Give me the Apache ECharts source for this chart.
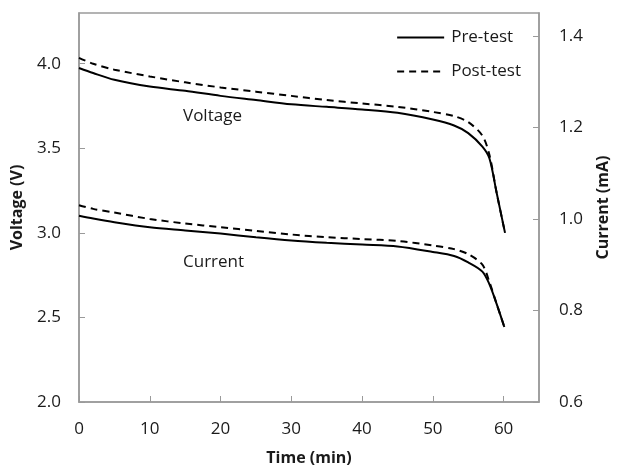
<!DOCTYPE html>
<html>
<head>
<meta charset="utf-8">
<script src="https://cdn.jsdelivr.net/npm/echarts@6/dist/echarts.min.js"></script>
<style>
  html, body { margin: 0; padding: 0; background: #fff; }
  #main { width: 619px; height: 471px; }
</style>
</head>
<body>
<div id="main"></div>
<script>
// time (min) points
var timeVoltage = [0, 2, 5, 10, 15, 20, 25, 30, 35, 40, 45, 50, 53, 55, 57, 58, 59, 60.2];
var voltagePre  = [3.975, 3.945, 3.905, 3.865, 3.84, 3.81, 3.785, 3.76, 3.745, 3.73, 3.71, 3.67, 3.635, 3.59, 3.51, 3.44, 3.24, 3.0];
var voltagePost = [4.035, 4.00, 3.965, 3.925, 3.89, 3.86, 3.835, 3.81, 3.785, 3.765, 3.745, 3.715, 3.69, 3.655, 3.575, 3.46, 3.24, 3.0];

var timeCurrent = [0, 2, 5, 10, 15, 20, 25, 30, 35, 40, 45, 50, 53, 55, 57, 58, 59, 60.1];
var currentPre  = [1.007, 1.001, 0.993, 0.982, 0.975, 0.968, 0.96, 0.953, 0.948, 0.944, 0.94, 0.928, 0.919, 0.905, 0.885, 0.857, 0.815, 0.764];
var currentPost = [1.03, 1.022, 1.014, 1.0, 0.99, 0.982, 0.974, 0.966, 0.96, 0.956, 0.952, 0.942, 0.934, 0.923, 0.9, 0.862, 0.815, 0.764];

var xTicks = [0, 10, 20, 30, 40, 50, 60];
var voltTicks = [2.0, 2.5, 3.0, 3.5, 4.0];
var currTicks = [0.6, 0.8, 1.0, 1.2, 1.4];

function pairs(xs, ys){
  var out = [];
  for (var i = 0; i < xs.length; i++) out.push([xs[i], ys[i]]);
  return out;
}

var font = 'Open Sans';
var grey = '#9a9a9a';
var textColor = '#1a1a1a';

var myChart = echarts.init(document.getElementById('main'));
var solid = { color: '#000', width: 2, type: 'solid' };
var dashed = { color: '#000', width: 2, type: [7, 5] };

var option = {
  animation: false,
  backgroundColor: '#fff',
  textStyle: { fontFamily: font, color: textColor },
  grid: { left: 79, top: 13, right: 74, bottom: 65, show: true, borderColor: grey, borderWidth: 1.5, backgroundColor: '#fff' },
  legend: {
    data: ['Pre-test', 'Post-test'],
    orient: 'vertical',
    right: 93,
    top: 24,
    itemWidth: 47,
    itemHeight: 16,
    itemGap: 17,
    itemStyle: { opacity: 0 },
    textStyle: { fontFamily: font, fontSize: 17, color: textColor, padding: [0, 0, 0, 2] }
  },
  xAxis: {
    type: 'value',
    min: 0, max: 65, interval: 10,
    name: 'Time (min)',
    nameLocation: 'middle',
    nameGap: 48,
    nameTextStyle: { fontFamily: font, fontSize: 16, fontWeight: 'bold', color: textColor },
    axisLine: { lineStyle: { color: grey, width: 1.5 } },
    axisTick: { inside: true, length: 6, lineStyle: { color: grey }, customValues: xTicks },
    axisLabel: { fontSize: 17, color: textColor, margin: 19, customValues: xTicks },
    splitLine: { show: false }
  },
  yAxis: [
    {
      type: 'value',
      min: 2.0, max: 4.3, interval: 0.5,
      name: 'Voltage (V)',
      nameLocation: 'middle',
      nameRotate: 90,
      nameGap: 54,
      nameTextStyle: { fontFamily: font, fontSize: 16, fontWeight: 'bold', color: textColor },
      axisLine: { show: true, lineStyle: { color: grey, width: 1.5 } },
      axisTick: { show: true, inside: true, length: 6, lineStyle: { color: grey }, customValues: voltTicks },
      axisLabel: { fontSize: 17, color: textColor, margin: 18, customValues: voltTicks,
        formatter: function (v){ return v.toFixed(1); } },
      splitLine: { show: false }
    },
    {
      type: 'value',
      position: 'right',
      min: 0.6, max: 1.45, interval: 0.2,
      name: 'Current (mA)',
      nameLocation: 'middle',
      nameRotate: 90,
      nameGap: 56,
      nameTextStyle: { fontFamily: font, fontSize: 16, fontWeight: 'bold', color: textColor },
      axisLine: { show: true, lineStyle: { color: grey, width: 1.5 } },
      axisTick: { show: true, inside: true, length: 6, lineStyle: { color: grey }, customValues: currTicks },
      axisLabel: { fontSize: 17, color: textColor, margin: 20, customValues: currTicks,
        formatter: function (v){ return v.toFixed(1); } },
      splitLine: { show: false }
    }
  ],
  graphic: [
    { type: 'text', left: 183, top: 108, style: { text: 'Voltage', fontFamily: font, fontSize: 17, fill: textColor } },
    { type: 'text', left: 183, top: 254, style: { text: 'Current', fontFamily: font, fontSize: 17, fill: textColor } }
  ],
  series: [
    { name: 'Pre-test', type: 'line', yAxisIndex: 0, data: pairs(timeVoltage, voltagePre), showSymbol: false, symbol: 'none', smooth: 0.3, lineStyle: solid, itemStyle: { color: '#000' } },
    { name: 'Post-test', type: 'line', yAxisIndex: 0, data: pairs(timeVoltage, voltagePost), showSymbol: false, symbol: 'none', smooth: 0.3, lineStyle: dashed, itemStyle: { color: '#000' } },
    { name: 'Pre-test', type: 'line', yAxisIndex: 1, data: pairs(timeCurrent, currentPre), showSymbol: false, symbol: 'none', smooth: 0.3, lineStyle: solid, itemStyle: { color: '#000' } },
    { name: 'Post-test', type: 'line', yAxisIndex: 1, data: pairs(timeCurrent, currentPost), showSymbol: false, symbol: 'none', smooth: 0.3, lineStyle: dashed, itemStyle: { color: '#000' } }
  ]
};
myChart.setOption(option);
</script>
</body>
</html>
